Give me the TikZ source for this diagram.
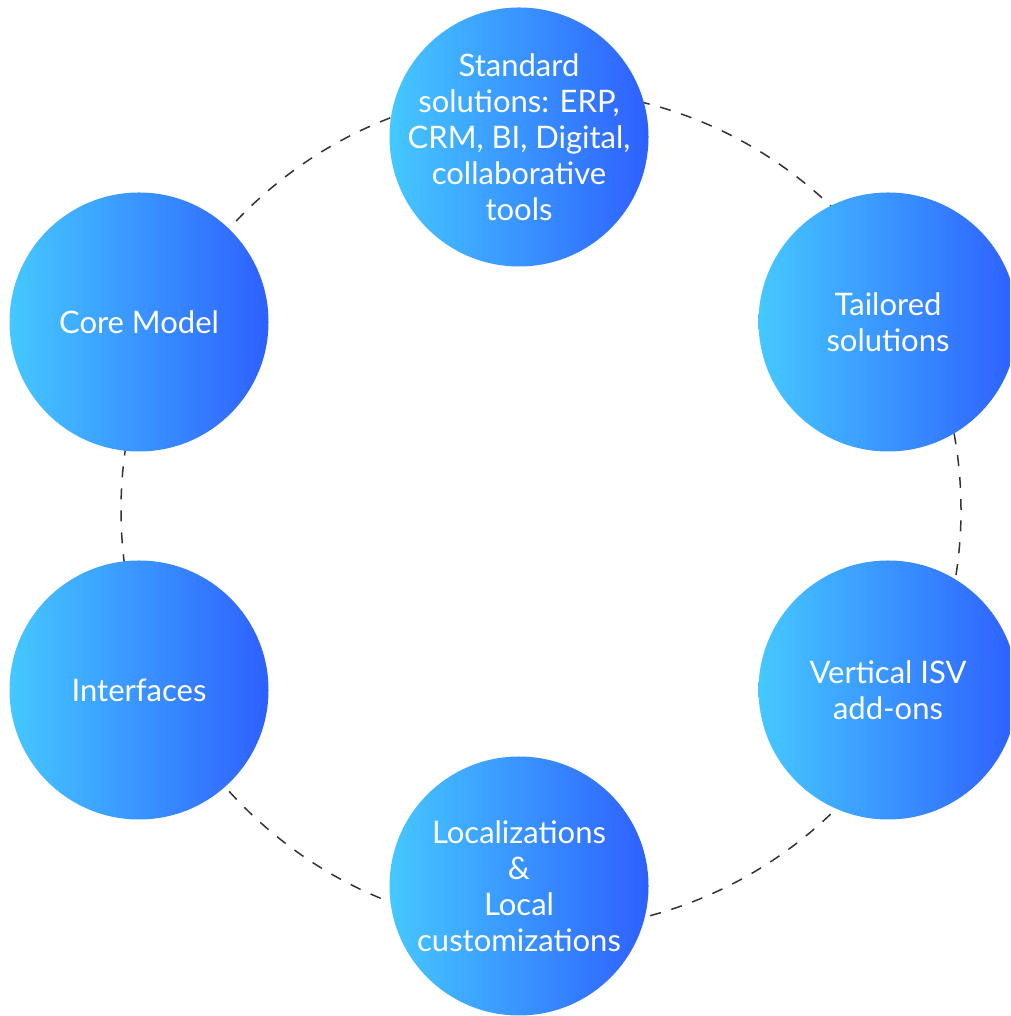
\documentclass[tikz,border=0pt]{standalone}
\usepackage{fontspec}
\setmainfont{Lato}
\definecolor{cyanblue}{HTML}{45C8FF}
\definecolor{deepblue}{HTML}{2E60FF}
\definecolor{ringgray}{HTML}{333333}

\begin{document}
\begin{tikzpicture}[x=1pt,y=1pt,
    bubble/.style={circle, minimum size=259pt, inner sep=-60pt,
      left color=cyanblue, right color=deepblue, text=white, align=center,
      font=\fontsize{31}{36}\selectfont},
    ring/.style={draw=ringgray, line width=1.5pt, dash pattern=on 11pt off 11pt}]

  % Canvas
  \useasboundingbox (0,0) rectangle (1010,1016);
  \clip (0,0) rectangle (1010,1016);

  % Dashed ring behind the bubbles
  \coordinate (hub) at (541,506);
  \draw[ring] (hub) circle (420);

  % Bubbles
  \node[bubble] (standard) at (519,879) {Standard\\solutions: ERP,\\CRM, BI, Digital,\\collaborative\\tools};
  \node[bubble] (core) at (139,694) {Core Model};
  \node[bubble] (tailored) at (888,694) {Tailored\\solutions};
  \node[bubble] (interfaces) at (139,326) {Interfaces};
  \node[bubble] (vertical) at (888,326) {Vertical ISV\\add-ons};
  \node[bubble] (local) at (519,130) {Localizations\\\&\\Local\\customizations};

\end{tikzpicture}
\end{document}
